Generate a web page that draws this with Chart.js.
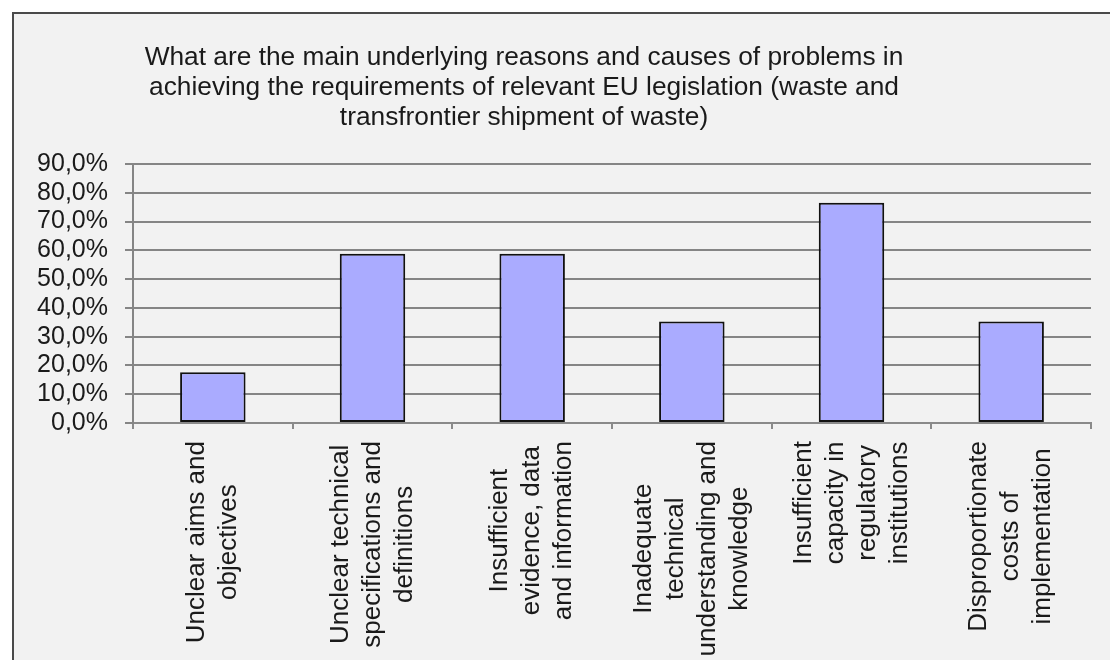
<!DOCTYPE html>
<html>
<head>
<meta charset="utf-8">
<script src="https://cdn.jsdelivr.net/npm/chart.js@4"></script>
<style>
  html, body { margin: 0; padding: 0; background: #fff; overflow: hidden; width: 1110px; height: 660px; }
  #frame {
    position: absolute; left: 12px; top: 12px; width: 1110px; height: 700px;
    border-left: 2px solid #4a4a4a; border-top: 2px solid #4a4a4a;
    background: #f2f2f2;
  }
  #chart { display: block; }
</style>
</head>
<body>
<div id="frame"><canvas id="chart" width="1096" height="686"></canvas></div>
<script>
// chart data
const titleLines = [
    "What are the main underlying reasons and causes of problems in",
    "achieving the requirements of relevant EU legislation (waste and",
    "transfrontier shipment of waste)"
];
const categories = [
    ["Unclear aims and", "objectives"],
    ["Unclear technical", "specifications and", "definitions"],
    ["Insufficient", "evidence, data", "and information"],
    ["Inadequate", "technical", "understanding and", "knowledge"],
    ["Insufficient", "capacity in", "regulatory", "institutions"],
    ["Disproportionate", "costs of", "implementation"]
];
const shares = [17.6, 58.8, 58.8, 35.3, 76.5, 35.3];
const yTicks = [0, 10, 20, 30, 40, 50, 60, 70, 80, 90];

const FONT = "'Liberation Sans', Arial, sans-serif";

// title + rotated, centred category labels
const labelsPlugin = {
    id: "labels",
    afterDraw(chart) {
        const ctx = chart.ctx;
        const xScale = chart.scales.x;
        ctx.save();
        ctx.fillStyle = "#1a1a1a";

        // title
        ctx.font = "26.3px " + FONT;
        ctx.textAlign = "center";
        ctx.textBaseline = "alphabetic";
        titleLines.forEach((line, i) => {
            ctx.fillText(line, 510, 51 + i * 30);
        });

        // category labels, lines centred on each other
        ctx.font = "26px " + FONT;
        const top = chart.chartArea.bottom + 18;
        const lh = 32;
        categories.forEach((lines, i) => {
            const cx = xScale.getPixelForTick(i);
            const w = Math.max(...lines.map(l => ctx.measureText(l).width));
            ctx.save();
            ctx.translate(cx, top + w / 2);
            ctx.rotate(-Math.PI / 2);
            ctx.textBaseline = "middle";
            lines.forEach((l, j) => {
                ctx.fillText(l, 0, (j - (lines.length - 1) / 2) * lh);
            });
            ctx.restore();
        });
        ctx.restore();
    }
};

const ctx = document.getElementById("chart").getContext("2d");
new Chart(ctx, {
    type: "bar",
    data: {
        labels: categories,
        datasets: [{
            data: shares,
            backgroundColor: "#aaabff",
            borderColor: "#111111",
            borderWidth: 2,
            borderSkipped: false,
            barPercentage: 0.41,
            categoryPercentage: 1
        }]
    },
    options: {
        responsive: false,
        animation: false,
        layout: { padding: { left: 0, top: 150, right: 19, bottom: 0 } },
        plugins: {
            legend: { display: false },
            title: { display: false },
            tooltip: { enabled: false }
        },
        scales: {
            x: {
                offset: true,
                grid: {
                    offset: true,
                    drawOnChartArea: false,
                    drawTicks: true,
                    tickLength: 6,
                    color: "#8a8a8a",
                    lineWidth: 2
                },
                border: { display: true, color: "#8a8a8a", width: 2 },
                ticks: { display: false },
                afterFit(scale) { scale.height = 277; }
            },
            y: {
                min: 0,
                max: 90,
                afterBuildTicks(scale) { scale.ticks = yTicks.map(v => ({ value: v })); },
                grid: {
                    color: "#858585",
                    lineWidth: 2,
                    drawTicks: true,
                    tickLength: 8
                },
                border: { display: true, color: "#858585", width: 2 },
                ticks: {
                    autoSkip: false,
                    padding: 17,
                    color: "#1a1a1a",
                    font: { family: FONT, size: 25 },
                    callback: v => v.toFixed(1).replace(".", ",") + "%"
                },
                afterFit(scale) { scale.width = 119; }
            }
        }
    },
    plugins: [labelsPlugin]
});
</script>
</body>
</html>
